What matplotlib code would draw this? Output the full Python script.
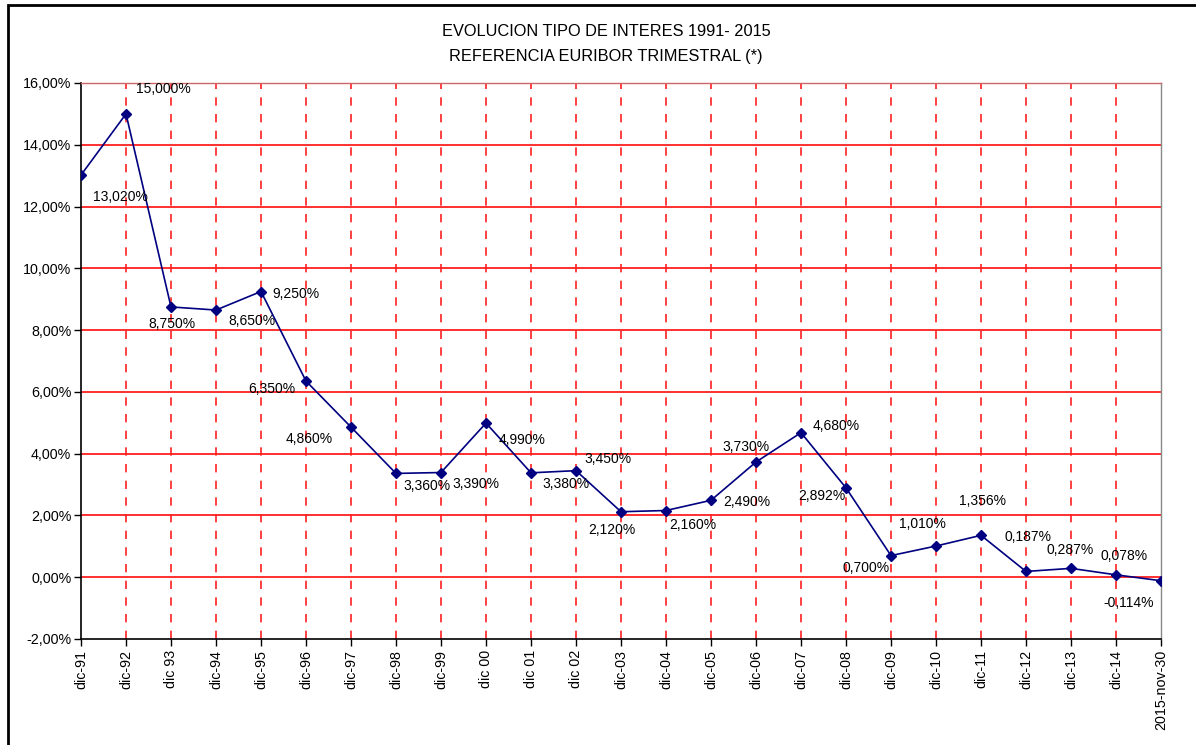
import matplotlib
matplotlib.use("Agg")
import matplotlib.pyplot as plt
from matplotlib.patches import Rectangle
from matplotlib.ticker import FuncFormatter, MultipleLocator

plt.rcParams['font.family'] = ['Liberation Sans', 'DejaVu Sans']

# Euribor trimestral, fin de año
periods = ["dic-91", "dic-92", "dic 93", "dic-94", "dic-95", "dic-96", "dic-97",
           "dic-98", "dic-99", "dic 00", "dic 01", "dic 02", "dic-03", "dic-04",
           "dic-05", "dic-06", "dic-07", "dic-08", "dic-09", "dic-10", "dic-11",
           "dic-12", "dic-13", "dic-14", "2015-nov-30"]
rates = [13.020, 15.000, 8.750, 8.650, 9.250, 6.350, 4.860, 3.360, 3.390, 4.990,
         3.380, 3.450, 2.120, 2.160, 2.490, 3.730, 4.680, 2.892, 0.700, 1.010,
         1.356, 0.187, 0.287, 0.078, -0.114]
label_texts = ["13,020%", "15,000%", "8,750%", "8,650%", "9,250%", "6,350%",
               "4,860%", "3,360%", "3,390%", "4,990%", "3,380%", "3,450%",
               "2,120%", "2,160%", "2,490%", "3,730%", "4,680%", "2,892%",
               "0,700%", "1,010%", "1,356%", "0,187%", "0,287%", "0,078%",
               "-0,114%"]

# label offsets from each point, in pixels (x right, y up)
label_offsets = [(39, -22), (37, 25), (1, -17), (36, -11), (35, -2), (-34, -8),
                 (-42, -12), (31, -13), (35, -11), (36, -17), (35, -11), (32, 12),
                 (-9, -18), (27, -14), (36, -2), (-10, 15), (35, 7), (-24, -8),
                 (-25, -12), (-14, 22), (2, 34), (2, 34), (-1, 18), (8, 19),
                 (-32, -22)]

W, H = 1196, 745
fig = plt.figure(figsize=(W / 100, H / 100), dpi=100)
fig.patch.set_facecolor("white")

# chart frame
fig.patches.append(Rectangle((8 / W, -0.05), 1.2, (H - 5) / H + 0.05,
                             transform=fig.transFigure, fill=False,
                             edgecolor="black", linewidth=2.0, zorder=0))

ax = fig.add_axes([81 / W, (H - 639) / H, (1161 - 81) / W, (639 - 83) / H])
x = list(range(len(rates)))

ax.set_xlim(0, len(rates) - 1)
ax.set_ylim(-2, 16)
ax.yaxis.set_major_locator(MultipleLocator(2))
ax.yaxis.set_major_formatter(FuncFormatter(lambda v, p: f"{v:.2f}%".replace(".", ",")))

for yv in range(0, 17, 2):
    ax.axhline(yv, color="#ff2020", linewidth=1.3, zorder=1)
for xi in x[1:-1]:
    ax.axvline(xi, color="#ff2020", linewidth=1.2, linestyle=(0, (5, 5)), zorder=1)

ax.plot(x, rates, color="#000080", linewidth=1.2, marker="D", markersize=5.5,
        markerfacecolor="#000080", markeredgecolor="#000080", zorder=3)

for xi, v, t, (dx, dy) in zip(x, rates, label_texts, label_offsets):
    ax.annotate(t, (xi, v), xytext=(dx * 0.72, dy * 0.72), textcoords="offset points",
                ha="center", va="center", fontsize=10, color="black", zorder=4)

ax.set_xticks(x)
ax.set_xticklabels(periods, rotation=90, fontsize=10.3, va="top")
ax.tick_params(axis="x", length=5, width=1, color="black", pad=3)
ax.tick_params(axis="y", length=5, width=1, color="black", labelsize=10.3, pad=2)

for side in ["left", "bottom"]:
    ax.spines[side].set_color("black")
    ax.spines[side].set_linewidth(1.2)
ax.spines["right"].set_color("#888888")
ax.spines["top"].set_color("#cc6666")
ax.spines["right"].set_linewidth(1.0)
ax.spines["top"].set_linewidth(1.0)

fig.text(606 / W, 1 - 32 / H, "EVOLUCION TIPO DE INTERES 1991- 2015",
         ha="center", va="center", fontsize=11.8)
fig.text(606 / W, 1 - 56 / H, "REFERENCIA EURIBOR TRIMESTRAL (*)",
         ha="center", va="center", fontsize=11.8)

fig.savefig("out.png", dpi=100)
